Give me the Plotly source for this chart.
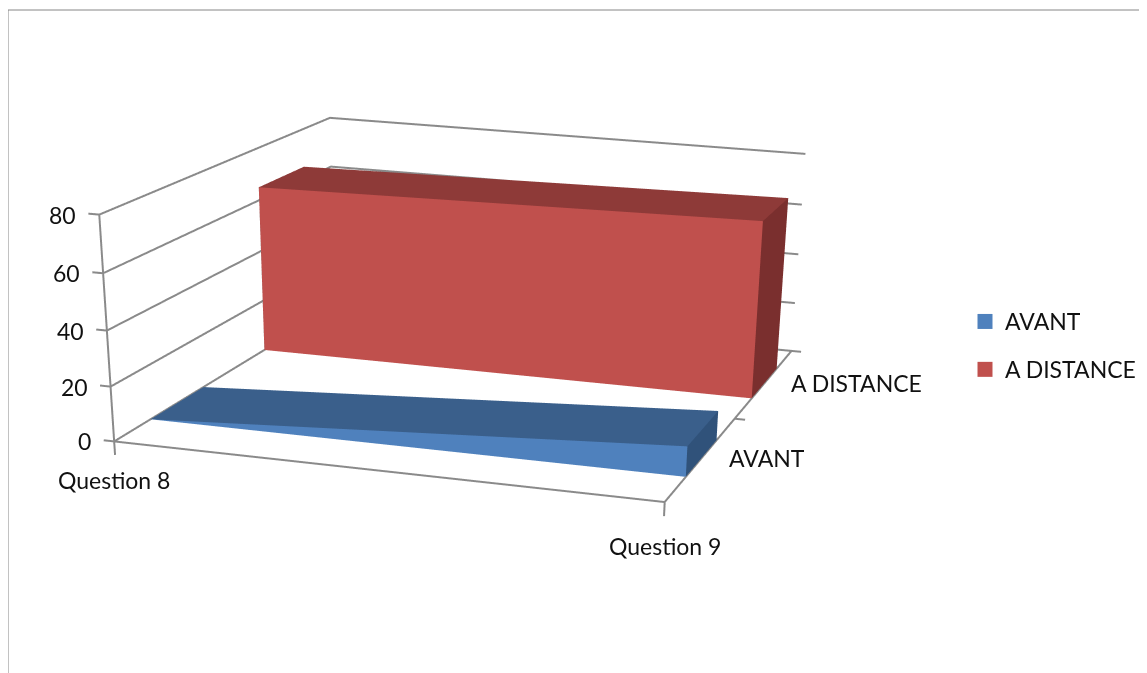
import plotly.graph_objects as go

questions = ["Question 8", "Question 9"]
series_names = ["AVANT", "A DISTANCE"]
avant = [0, 11]
a_distance = [65, 68]
z_ticks = [0, 20, 40, 60, 80]

FONT = "Lato"
GRID = "#8a8a8a"
FACE = {
    "AVANT": ["#4F81BD", "#3A5F8B", "#30527A"],
    "A DISTANCE": ["#C0504D", "#8E3A38", "#7A2F2E"],
}
SLOT = [0.5, 1.5]
HALF = 0.22
X0, X1, DEPTH, ZMAX = 0, 1, 2, 80
PAD_X, PAD_Y, PAD_Z = 0.05, 0.1, 8

fig = go.Figure()


def band(name, vals, yc):
    y0, y1 = yc - HALF, yc + HALF
    a, b = vals
    xs = [X0, X1, X1, X0, X0, X1, X1, X0]
    ys = [y0, y0, y1, y1, y0, y0, y1, y1]
    zs = [0, 0, 0, 0, a, b, b, a]
    tri = [
        (0, 1, 5), (0, 5, 4),  # front
        (4, 5, 6), (4, 6, 7),  # top
        (1, 2, 6), (1, 6, 5),  # right
        (0, 3, 7), (0, 7, 4),  # left
        (3, 2, 6), (3, 6, 7),  # back
    ]
    f, t, s = FACE[name]
    fig.add_trace(go.Mesh3d(
        x=xs, y=ys, z=zs,
        i=[q[0] for q in tri], j=[q[1] for q in tri], k=[q[2] for q in tri],
        facecolor=[f, f, t, t, s, s, s, s, t, t],
        flatshading=True,
        lighting=dict(ambient=1, diffuse=0, specular=0, fresnel=0),
        hoverinfo="skip", showlegend=False,
    ))


def seg(xs, ys, zs):
    fig.add_trace(go.Scatter3d(
        x=xs, y=ys, z=zs, mode="lines",
        line=dict(color=GRID, width=4),
        hoverinfo="skip", showlegend=False,
    ))


for v in z_ticks:
    seg([X0, X0, X1], [0, DEPTH, DEPTH], [v, v, v])
    seg([X0, X0 - 0.02], [0, 0], [v, v])
seg([X0, X0], [0, 0], [0, ZMAX])
seg([X0, X1, X1], [0, 0, DEPTH], [0, 0, 0])
for x in (X0, X1):
    seg([x, x], [0, 0], [0, -5])
for d in (1, 2):
    seg([X1, X1 + 0.02], [d, d], [0, 0])

band("AVANT", avant, SLOT[0])
band("A DISTANCE", a_distance, SLOT[1])

for name in series_names:
    fig.add_trace(go.Scatter3d(
        x=[None], y=[None], z=[None], mode="markers", name=name, legendgroup=name,
        marker=dict(symbol="square", size=15, color=FACE[name][0]),
    ))

ann = []
for v in z_ticks:
    ann.append(dict(x=X0, y=0, z=v, text=str(v), showarrow=False, xanchor="right", xshift=-21))
ann.append(dict(x=X0, y=0, z=0, text=questions[0], showarrow=False, yshift=-39))
ann.append(dict(x=X1, y=0, z=0, text=questions[1], showarrow=False, yshift=-44))
for yc, name in zip(SLOT, series_names):
    ann.append(dict(x=X1, y=yc, z=0, text=name, showarrow=False, xanchor="left", xshift=25))

W, H = 1133, 2000
fig.update_layout(
    width=W, height=H,
    margin=dict(l=0, r=0, t=0, b=0),
    paper_bgcolor="white",
    font=dict(family=FONT, size=23, color="#111111"),
    scene=dict(
        domain=dict(x=[0, 1], y=[0, 1]),
        xaxis=dict(visible=False, range=[X0 - PAD_X, X1 + PAD_X]),
        yaxis=dict(visible=False, range=[-PAD_Y, DEPTH + PAD_Y]),
        zaxis=dict(visible=False, range=[-PAD_Z, ZMAX + PAD_Z]),
        aspectmode="manual",
        aspectratio=dict(x=1.1, y=1.0955 * 1.1, z=0.3871 * 1.2),
        camera=dict(
            eye=dict(x=1.3839, y=-4.3897, z=1.0194),
            center=dict(x=0.9126, y=-2.6126, z=0),
            up=dict(x=-0.1718, y=0.5117, z=1),
        ),
        annotations=ann,
    ),
    legend=dict(x=(971 - 8) / W, y=1 - (300 - 8) / H, xanchor="left", yanchor="top",
                bgcolor="rgba(0,0,0,0)", font=dict(size=23, family=FONT), tracegroupgap=15),
    shapes=[dict(type="rect", xref="paper", yref="paper", x0=0, x1=1.1,
                 y0=0.5, y1=1 - 2 / H, line=dict(color="#868686", width=1))],
)
fig.write_html("out.html")
